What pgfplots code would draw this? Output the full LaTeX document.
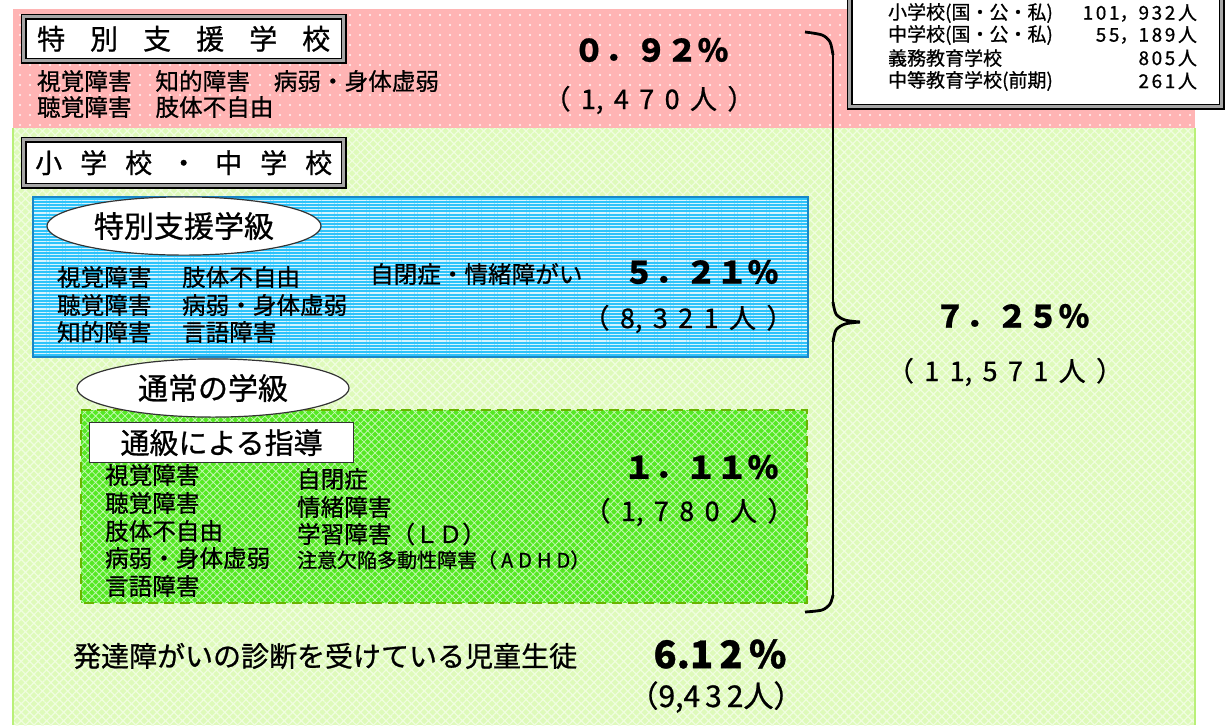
\documentclass[border=0pt]{standalone}
\usepackage{fontspec}
\setmainfont{Noto Sans CJK JP}[RawFeature={embolden=0.8}]
\usepackage{pgfplots}
\pgfplotsset{compat=1.18}
\usetikzlibrary{patterns.meta,shapes.geometric}

\definecolor{pinkbg}{RGB}{255,180,180}
\definecolor{greenbg}{RGB}{222,250,186}
\definecolor{greenedge}{RGB}{185,240,120}
\definecolor{bluefill}{RGB}{45,195,250}
\definecolor{blueedge}{RGB}{25,135,200}
\definecolor{gfill}{RGB}{85,232,35}
\definecolor{gedge}{RGB}{105,180,0}
\definecolor{txt}{RGB}{25,25,25}

\newcommand\fs[1]{\fontsize{#1}{#1}\selectfont}
\newcommand\gap{\hspace{5.2pt}}
\newcommand\dg{\hspace{1.3pt}}

\begin{document}
\begin{tikzpicture}
\begin{axis}[
  width=612.5pt, height=362.5pt, scale only axis,
  xmin=0, xmax=1225, ymin=0, ymax=725, y dir=reverse,
  axis lines=none, clip=true,
  every node/.append style={text=txt, inner sep=0pt},
]
% background regions
\addplot[fill=pinkbg, draw=none] coordinates {(13,9)(1195,9)(1195,128)(13,128)} -- cycle;
\addplot[pattern={Dots[distance=5pt,radius=0.55pt]}, pattern color=white!85!pinkbg, draw=none]
  coordinates {(13,9)(1195,9)(1195,128)(13,128)} -- cycle;
\addplot[fill=greenbg, draw=none] coordinates {(13,128)(1195,128)(1195,725)(13,725)} -- cycle;
\addplot[pattern={Hatch[angle=45,distance=3pt,line width=0.6pt]}, pattern color=white!55!greenbg, draw=none]
  coordinates {(13,128)(1195,128)(1195,725)(13,725)} -- cycle;
\addplot[greenedge, line width=0.8pt] coordinates {(13,128)(13,725)};
\addplot[greenedge, line width=0.8pt] coordinates {(1195,128)(1195,725)};

% blue box (special support class)
\addplot[fill=bluefill, draw=none] coordinates {(33,197)(808,197)(808,357)(33,357)} -- cycle;
\addplot[pattern={Lines[distance=1.6pt,line width=0.6pt]}, pattern color=white!80!bluefill, draw=none]
  coordinates {(33,197)(808,197)(808,357)(33,357)} -- cycle;
\addplot[blueedge, line width=1.2pt] coordinates {(33,197)(808,197)(808,357)(33,357)} -- cycle;

% green dashed box (resource room)
\addplot[fill=gfill, draw=none] coordinates {(81,410)(807,410)(807,603)(81,603)} -- cycle;
\addplot[pattern={Hatch[angle=45,distance=2.6pt,line width=0.4pt]}, pattern color=white!65!gfill, draw=none]
  coordinates {(81,410)(807,410)(807,603)(81,603)} -- cycle;
\addplot[gedge, line width=1.3pt, dash pattern=on 5pt off 3pt] coordinates {(81,410)(807,410)(807,603)(81,603)} -- cycle;

% brace
\addplot[black, line width=1.4pt, smooth] coordinates {(805,32)(822,35)(830,42)(833,55)};
\addplot[black, line width=1.4pt] coordinates {(833,55)(833,302)};
\addplot[black, line width=1.4pt, smooth] coordinates {(833,302)(836,314)(845,320)(860,322)};
\addplot[black, line width=1.4pt, smooth] coordinates {(860,322)(845,324)(836,330)(833,342)};
\addplot[black, line width=1.4pt] coordinates {(833,342)(833,595)};
\addplot[black, line width=1.4pt, smooth] coordinates {(833,595)(830,604)(822,610)(805,612)};

% title boxes
\node[draw=black, double=gray!70, double distance=1.6pt, line width=0.7pt, fill=white,
  minimum width=160pt, minimum height=22pt, anchor=north west]
  at (axis cs:23,16) {\fs{14}特\hspace{12.5pt}別\hspace{12.5pt}支\hspace{12.5pt}援\hspace{12.5pt}学\hspace{12.5pt}校};
\node[draw=black, double=gray!70, double distance=1.6pt, line width=0.7pt, fill=white,
  minimum width=160pt, minimum height=23pt, anchor=north west]
  at (axis cs:23,139) {\fs{13.5}小\hspace{9pt}学\hspace{9pt}校\hspace{9pt}・\hspace{9pt}中\hspace{9pt}学\hspace{9pt}校};

% top right table
\node[draw=black, double=gray!70, double distance=1.6pt, line width=0.8pt, fill=white,
  minimum width=186pt, minimum height=63pt, anchor=north west] at (axis cs:849,-20) {};
\node[anchor=west] at (axis cs:881,13) {\fs{9.5}小学校(国・公・私)};
\node[anchor=west] at (axis cs:881,35) {\fs{9.5}中学校(国・公・私)};
\node[anchor=west] at (axis cs:881,58) {\fs{9.5}義務教育学校};
\node[anchor=west] at (axis cs:881,81) {\fs{9.5}中等教育学校(前期)};
\node[anchor=east] at (axis cs:1204,13) {\fs{9.5}1\dg0\dg1，9\dg3\dg2\dg{}人};
\node[anchor=east] at (axis cs:1204,35) {\fs{9.5}5\dg5，1\dg8\dg9\dg{}人};
\node[anchor=east] at (axis cs:1204,58) {\fs{9.5}8\dg0\dg5\dg{}人};
\node[anchor=east] at (axis cs:1204,81) {\fs{9.5}2\dg6\dg1\dg{}人};

% special school contents
\node[anchor=west] at (axis cs:30,81) {\fs{11.8}視覚障害\hspace{12pt}知的障害\hspace{12pt}病弱・身体虚弱};
\node[anchor=west] at (axis cs:30,107) {\fs{11.8}聴覚障害\hspace{12pt}肢体不自由};
\node at (axis cs:651,50) {\fs{15.5}\bfseries ０．９２％};
\node at (axis cs:649,100) {\fs{13.5}（\gap1,\gap4\gap7\gap0\gap{}人\gap）};

% special class
\node[ellipse, draw=black!80, line width=0.6pt, fill=white, minimum width=137pt, minimum height=21pt]
  at (axis cs:184,226) {\fs{15}特別支援学級};
\node[anchor=west] at (axis cs:50,277) {\fs{11.8}視覚障害};
\node[anchor=west] at (axis cs:175,277) {\fs{11.8}肢体不自由};
\node[anchor=west] at (axis cs:363,274) {\fs{11.8}自閉症・情緒障がい};
\node[anchor=west] at (axis cs:50,305) {\fs{11.8}聴覚障害};
\node[anchor=west] at (axis cs:175,305) {\fs{11.8}病弱・身体虚弱};
\node[anchor=west] at (axis cs:50,332) {\fs{11.8}知的障害};
\node[anchor=west] at (axis cs:175,332) {\fs{11.8}言語障害};
\node at (axis cs:701,272) {\fs{15.5}\bfseries ５．２１％};
\node at (axis cs:688,319) {\fs{13.5}（\gap8,\gap3\gap2\gap1\gap{}人\gap）};

% regular class
\node[ellipse, draw=black!80, line width=0.6pt, fill=white, minimum width=136pt, minimum height=21pt]
  at (axis cs:213,388) {\fs{15}通常の学級};
\node[draw=black!80, line width=0.6pt, fill=white, minimum width=132pt, minimum height=19pt, anchor=north west]
  at (axis cs:89,422) {\fs{14.5}通級による指導};
\node[anchor=west] at (axis cs:98,475) {\fs{11.8}視覚障害};
\node[anchor=west] at (axis cs:98,503) {\fs{11.8}聴覚障害};
\node[anchor=west] at (axis cs:98,531) {\fs{11.8}肢体不自由};
\node[anchor=west] at (axis cs:98,558) {\fs{11.8}病弱・身体虚弱};
\node[anchor=west] at (axis cs:98,586) {\fs{11.8}言語障害};
\node[anchor=west] at (axis cs:290,479) {\fs{11.8}自閉症};
\node[anchor=west] at (axis cs:290,507) {\fs{11.8}情緒障害};
\node[anchor=west] at (axis cs:290,534) {\fs{11.8}学習障害（ＬＤ）};
\node[anchor=west] at (axis cs:290,560) {\fs{10}注意欠陥多動性障害（\hspace{2pt}A\hspace{2.5pt}D\hspace{2.5pt}H\hspace{2.5pt}D）};
\node at (axis cs:701,467) {\fs{15.5}\bfseries １．１１％};
\node at (axis cs:689,512) {\fs{13.5}（\gap1,\gap7\gap8\gap0\gap{}人\gap）};

% totals
\node at (axis cs:1012,316) {\fs{15.5}\bfseries ７．２５％};
\node at (axis cs:1005,372) {\fs{13.5}（\gap1\gap1,\gap5\gap7\gap1\gap{}人\gap）};
\node[anchor=west] at (axis cs:66,656) {\fs{14}発達障がいの診断を受けている児童生徒};
\node at (axis cs:720,654) {\fs{19}\bfseries 6.1\,2\,\%};
\node at (axis cs:716,697) {\fs{15}（9,4\,3\,2人）};
\end{axis}
\pgfresetboundingbox
\useasboundingbox (current axis.south west) rectangle (current axis.north east);
\end{tikzpicture}
\end{document}
